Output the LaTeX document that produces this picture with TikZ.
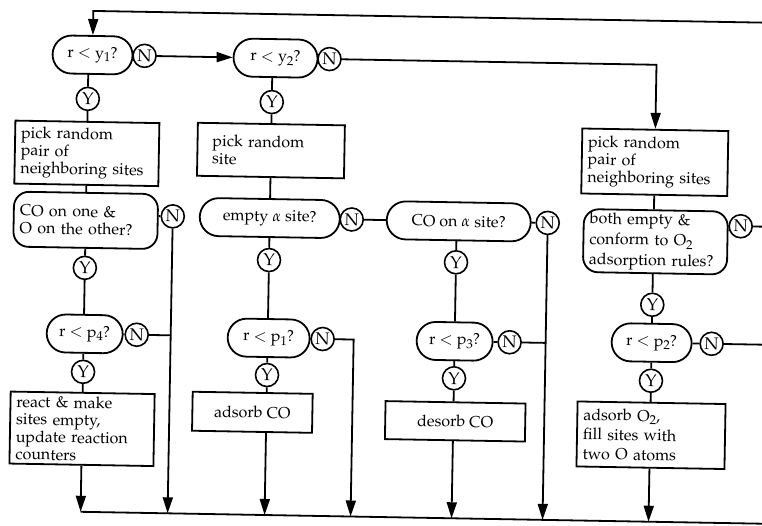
\documentclass[tikz,border=0pt]{standalone}
\usepackage[T1]{fontenc}
\usepackage{mathpazo}
\usetikzlibrary{arrows.meta}
\newcommand\mysubs[1]{\raisebox{-3.5pt}{\fontsize{13}{13}\selectfont #1}}
\newcommand\myrlt[2]{r $<$ #1\mysubs{#2}?}
\begin{document}
\begin{tikzpicture}[x=1pt,y=-1pt,
  every node/.style={font=\fontsize{16}{17.5}\selectfont},
  conn/.style={line width=1.8pt},
  arr/.style={conn,-{Triangle[length=16pt,width=10pt]}},
  box/.style={draw,line width=1.8pt,align=left,inner xsep=6pt,inner ysep=0pt},
  dec/.style={draw,line width=1.8pt,rounded corners=19pt,minimum height=38pt,inner xsep=4pt,inner ysep=0pt},
  decb/.style={draw,line width=1.8pt,rounded corners=15pt,align=left,inner xsep=6pt,inner ysep=0pt},
  yn/.style={draw,circle,line width=1.6pt,minimum size=23pt,inner sep=0pt,font=\fontsize{17}{17}\selectfont},
]
\path[use as bounding box] (0,0) rectangle (762,525);
\fill[white] (0,0) rectangle (762,525);
\clip (0,0) rectangle (762,525);
\begin{scope}[rotate around={-1:(381,262)},transform shape]
% column 1
\node[dec, minimum width=80pt] (d1) at (89,60) {\myrlt{y}{1}};
\node[yn] (n1) at (141,60) {N};
\node[yn] (y1) at (85,104) {Y};
\node[box, text width=132pt, minimum height=63pt] (b1) at (85,158.5) {pick random\\pair of\\neighboring sites};
\node[decb, text width=132pt, minimum height=55pt] (d2) at (85,225.5) {CO on one \&\\O on the other?};
\node[yn] (n3) at (172,220) {N};
\node[yn] (y3) at (85,273) {Y};
\node[dec, minimum width=76pt] (d3) at (86,339) {\myrlt{p}{4}};
\node[yn] (n4) at (138,339) {N};
\node[yn] (y4) at (85,377) {Y};
\node[box, text width=132pt, minimum height=72pt] (b3) at (85,434) {react \& make\\sites empty,\\update reaction\\counters};
% column 2
\node[dec, minimum width=84pt] (d4) at (272,60) {\myrlt{y}{2}};
\node[yn] (n2) at (326,60) {N};
\node[yn] (y2) at (269,104) {Y};
\node[box, text width=117pt, inner xsep=15pt, minimum height=53pt] (b2) at (269,152.5) {pick random\\site};
\node[dec, minimum width=140pt] (d5) at (269,220) {empty $\alpha$ site?};
\node[yn] (n5) at (351,220) {N};
\node[yn] (y5) at (269,262) {Y};
\node[dec, minimum width=82pt] (d6) at (270,340) {\myrlt{p}{1}};
\node[yn] (n6) at (324,340) {N};
\node[yn] (y6) at (269,377) {Y};
\node[box, minimum width=120pt, minimum height=39pt] (b4) at (255,414.5) {adsorb CO};
% column 3
\node[dec, minimum width=144pt] (d7) at (458,220) {CO on $\alpha$ site?};
\node[yn] (n7) at (547,220) {N};
\node[yn] (y7) at (456,261) {Y};
\node[dec, minimum width=76pt] (d8) at (456,340) {\myrlt{p}{3}};
\node[yn] (n8) at (511,340) {N};
\node[yn] (y8) at (456,377) {Y};
\node[box, minimum width=140pt, minimum height=38pt] (b7) at (458,420) {desorb CO};
% column 4
\node[box, text width=134pt, minimum height=65pt] (b5) at (653,157.5) {pick random\\pair of\\neighboring sites};
\node[decb, text width=132pt, minimum height=63pt, font=\fontsize{16}{20.5}\selectfont] (d9) at (655,237) {both empty \&\\conform to O\mysubs{2}\\adsorption rules?};
\node[yn] (n9) at (740,220) {N};
\node[yn] (y9) at (653,300) {Y};
\node[dec, minimum width=80pt] (d10) at (653,338) {\myrlt{p}{2}};
\node[yn] (n10) at (713,338) {N};
\node[yn] (y10) at (653,376) {Y};
\node[box, text width=136pt, minimum height=65pt, font=\fontsize{16}{19.5}\selectfont] (b6) at (654,430.5) {adsorb O\mysubs{2},\\fill sites with\\two O atoms};
% loop coordinates
\coordinate (tl) at (89,16);
\coordinate (tr) at (768,16);
\coordinate (bl) at (85,517);
\coordinate (br) at (768,517);
\coordinate (c6) at (355,340);
% main loop
\draw[arr] (bl) -- (br) -- (tr) -- (tl) -- (d1.north);
% row 1
\draw[conn] (d1) -- (n1);
\draw[arr] (n1) -- (d4);
\draw[conn] (d4) -- (n2);
\draw[arr] (n2) -| (b5.north);
% column 1
\draw[conn] (y1) -- (y1 |- d1.south);
\draw[conn] (y1) -- (b1);
\draw[conn] (b1) -- (d2);
\draw[conn] (d2) -- (y3);
\draw[conn] (y3) -- (y3 |- d3.north);
\draw[conn] (y4) -- (y4 |- d3.south);
\draw[conn] (y4) -- (b3);
\draw[conn] (n3.west) -- (n3.west -| d2.east);
\draw[arr] (n3) -- (n3 |- bl);
\draw[conn] (d3) -- (n4);
\draw[conn] (n4) -- (n4 -| n3);
\draw[arr] (b3) -- (b3 |- bl);
% column 2
\draw[conn] (y2) -- (y2 |- d4.south);
\draw[conn] (y2) -- (b2);
\draw[conn] (b2) -- (d5);
\draw[conn] (d5) -- (n5);
\draw[conn] (n5) -- (d7);
\draw[conn] (d5) -- (y5);
\draw[conn] (y5) -- (y5 |- d6.north);
\draw[conn] (d6) -- (n6);
\draw[arr] (n6) -- (c6) -- (c6 |- bl);
\draw[conn] (y6) -- (y6 |- d6.south);
\draw[conn] (y6) -- (y6 |- b4.north);
\draw[arr] (b4.south -| y6) -- (y6 |- bl);
% column 3
\draw[conn] (d7) -- (n7);
\draw[conn] (y7) -- (y7 |- d7.south);
\draw[conn] (y7) -- (d8);
\draw[conn] (d8) -- (n8);
\draw[conn] (n8) -- (n8 -| n7);
\draw[arr] (n7) -- (n7 |- bl);
\draw[conn] (d8) -- (y8);
\draw[conn] (y8) -- (y8 |- b7.north);
\draw[arr] (b7.south -| y8) -- (y8 |- bl);
% column 4
\draw[conn] (b5.south) -- (b5.south |- d9.north);
\draw[conn] (n9.west) -- (n9.west -| d9.east);
\draw[conn] (n9) -- (n9 -| br);
\draw[conn] (y9) -- (y9 |- d9.south);
\draw[conn] (y9) -- (d10);
\draw[conn] (d10) -- (n10);
\draw[conn] (n10) -- (n10 -| br);
\draw[conn] (d10) -- (y10);
\draw[conn] (y10) -- (y10 |- b6.north);
\draw[arr] (b6.south -| y10) -- (y10 |- bl);
\end{scope}
\end{tikzpicture}
\end{document}
